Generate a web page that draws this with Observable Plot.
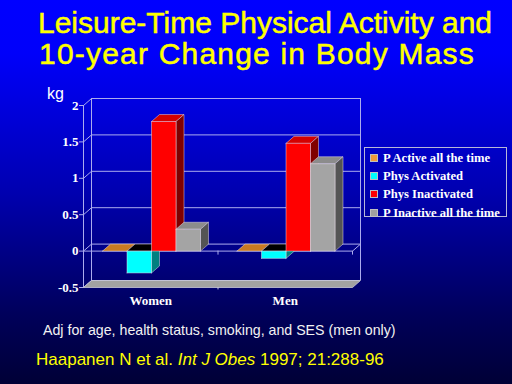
<!DOCTYPE html>
<html>
<head>
<meta charset="utf-8">
<script src="https://cdn.jsdelivr.net/npm/d3@7"></script>
<script src="https://cdn.jsdelivr.net/npm/@observablehq/plot@0.6"></script>
<style>
  html, body { margin: 0; padding: 0; }
  body {
    width: 512px; height: 384px; overflow: hidden; position: relative;
    background: linear-gradient(to bottom, #0000ff 0%, #0000fa 14%, #0000b0 50%, #00005a 82%, #000036 100%);
    font-family: "Liberation Sans", Arial, sans-serif;
  }
  .abs { position: absolute; white-space: nowrap; }
  .title { color: #ffff00; font-size: 30px; line-height: 30px; width: 512px; text-align: center;
           -webkit-text-stroke: 0.5px #ffff00; }
  #chart { position: absolute; left: 0; top: 80px; }
  .legend { position: absolute; left: 364px; top: 147px; width: 143px; height: 70px; border: 1px solid #b8b8d8; box-sizing: border-box; }
  .li { position: absolute; left: 5px; height: 18px; display: flex; align-items: center;
        font-family: "Liberation Serif", "Times New Roman", serif; font-weight: bold; font-size: 12.6px; color: #ffffff; }
  .sw { width: 8px; height: 8px; margin-right: 5px; border: 0.5px solid #c0c0c0; box-sizing: border-box; }
</style>
</head>
<body>
<div id="t1" class="abs title" style="left:9px; top:8px;"></div>
<div id="t2" class="abs title" style="left:1px; top:39px; letter-spacing:1.2px;"></div>
<div id="kg" class="abs" style="left:47px; top:85.5px; color:#fff; font-size:16px; line-height:16px;"></div>
<div id="chart"></div>
<div id="legend" class="legend"></div>
<div id="note" class="abs" style="left:43px; top:323px; color:#f2f2f2; font-size:14.2px; line-height:14px;"></div>
<div id="cite" class="abs" style="left:36px; top:350.5px; color:#ffff00; font-size:17px; line-height:17px;"></div>
<script>
// ---- data ----
const titleLines = ["Leisure-Time Physical Activity and", "10-year Change in Body Mass"];
const unitLabel = "kg";
const groups = ["Women", "Men"];
const seriesNames = ["P Active all the time", "Phys Activated", "Phys Inactivated", "P Inactive all the time"];
const womenValues = [0, -0.3, 1.78, 0.3];
const menValues = [0, -0.1, 1.48, 1.2];
const yTicks = [-0.5, 0, 0.5, 1, 1.5, 2];
const yTickLabels = ["-0.5", "0", "0.5", "1", "1.5", "2"];
const legendColors = ["#f09a3a", "#00ffff", "#ff0000", "#a0a0a0"];
const frontColors = ["#f09a3a", "#00ffff", "#ff0000", "#a4a4a4"];
const topColors = ["#c87a22", "#000000", "#d40000", "#8c8c8c"];
const sideColors = ["#8a5010", "#008080", "#800000", "#545454"];
const noteText = "Adj for age, health status, smoking, and SES (men only)";
const citeParts = ["Haapanen N et al. ", "Int J Obes", " 1997; 21:288-96"];

// ---- layout ----
const W = 370, H = 230, mL = 83, mR = 18, mT = 25, mB = 23;
const xDomain = [0, groups.length], yDomain = [yTicks[0], yTicks[yTicks.length - 1]];
const pxX = (W - mL - mR) / (xDomain[1] - xDomain[0]);
const pxY = (H - mT - mB) / (yDomain[1] - yDomain[0]);
const DX = 8 / pxX, DY = 7 / pxY;          // oblique depth, in data units
const PAD = 19 / pxX, BW = 24.5 / pxX;     // group padding and bar width
const TICK_X = 4 / pxX, TICK_Y = 4 / pxY;
const gridColor = "#acacee";

const values = [womenValues, menValues];
const faces = [];
function poly(id, color, pts) {
  pts.concat([pts[0]]).forEach(([x, y]) => faces.push({id, color, x, y}));
}
groups.forEach((g, gi) => {
  values[gi].forEach((v, si) => {
    const x0 = gi + PAD + si * BW, x1 = x0 + BW;
    const lo = Math.min(0, v), hi = Math.max(0, v);
    const id = g + "-" + si;
    poly(id + "-top", v < 0 ? topColors[1] : topColors[si],
      [[x0, hi], [x1, hi], [x1 + DX, hi + DY], [x0 + DX, hi + DY]]);
    if (v !== 0) {
      poly(id + "-side", sideColors[si], [[x1, lo], [x1, hi], [x1 + DX, hi + DY], [x1 + DX, lo + DY]]);
      poly(id + "-front", frontColors[si], [[x0, lo], [x1, lo], [x1, hi], [x0, hi]]);
    }
  });
});

const slab = [];
const y0 = yDomain[0];
[[xDomain[0], y0], [xDomain[1], y0], [xDomain[1] + DX, y0 + DY], [xDomain[0] + DX, y0 + DY], [xDomain[0], y0]]
  .forEach(([x, y]) => slab.push({x, y}));

const chart = Plot.plot({
  width: W, height: H,
  marginLeft: mL, marginRight: mR, marginTop: mT, marginBottom: mB,
  x: {domain: xDomain, axis: null},
  y: {domain: yDomain, axis: null},
  color: {type: "identity"},
  style: {background: "transparent", overflow: "visible"},
  marks: [
    // back wall gridlines and edges
    Plot.ruleY(yTicks, {y: d => d + DY, x1: xDomain[0] + DX, x2: xDomain[1] + DX, stroke: gridColor, strokeWidth: 1}),
    Plot.ruleX([xDomain[0] + DX, xDomain[1] + DX], {y1: yDomain[0] + DY, y2: yDomain[1] + DY, stroke: gridColor}),
    // left wall gridlines
    Plot.link(yTicks, {x1: xDomain[0], y1: d => d, x2: xDomain[0] + DX, y2: d => d + DY, stroke: gridColor}),
    // front value axis
    Plot.ruleX([xDomain[0]], {y1: yDomain[0], y2: yDomain[1], stroke: gridColor}),
    Plot.ruleY(yTicks, {y: d => d, x1: xDomain[0] - TICK_X, x2: xDomain[0], stroke: gridColor}),
    // zero plane front line and right edge
    Plot.ruleY([0], {x1: xDomain[0], x2: xDomain[1], stroke: gridColor}),
    Plot.link([0], {x1: xDomain[1], y1: 0, x2: xDomain[1] + DX, y2: DY, stroke: gridColor}),
    Plot.ruleX([1, 2], {y1: 0, y2: -TICK_Y, stroke: gridColor}),
    // floor slab
    Plot.line(slab, {x: "x", y: "y", fill: "#a2a2a2", stroke: "#c8c8d8", strokeWidth: 0.8}),
    Plot.ruleX([1], {y1: y0, y2: y0 - TICK_Y * 0.6, stroke: "#c8c8d8"}),
    // bars
    Plot.line(faces, {x: "x", y: "y", z: "id", fill: "color", stroke: "rgba(235,225,235,0.6)", strokeWidth: 0.8, strokeLinejoin: "miter"}),
    // tick labels
    Plot.text(yTicks, {x: xDomain[0], y: d => d, text: (d, i) => yTickLabels[i], textAnchor: "end", dx: -5,
      fill: "#ffffff", fontFamily: "Liberation Serif", fontWeight: "bold", fontSize: 13}),
    Plot.text(groups, {x: (d, i) => i + 0.5, y: yDomain[0], text: d => d, dy: 13,
      fill: "#ffffff", fontFamily: "Liberation Serif", fontWeight: "bold", fontSize: 13})
  ]
});
document.getElementById("chart").appendChild(chart);

document.getElementById("t1").textContent = titleLines[0];
document.getElementById("t2").textContent = titleLines[1];
document.getElementById("kg").textContent = unitLabel;
document.getElementById("note").textContent = noteText;
const cite = document.getElementById("cite");
cite.append(citeParts[0]);
const em = document.createElement("i"); em.textContent = citeParts[1]; cite.append(em);
cite.append(citeParts[2]);

const legend = document.getElementById("legend");
const rowTops = [1, 19, 37, 56];
seriesNames.forEach((name, i) => {
  const row = document.createElement("div");
  row.className = "li";
  row.style.top = rowTops[i] + "px";
  const sw = document.createElement("span");
  sw.className = "sw"; sw.style.background = legendColors[i];
  row.appendChild(sw);
  row.append(name);
  legend.appendChild(row);
});
</script>
</body>
</html>
